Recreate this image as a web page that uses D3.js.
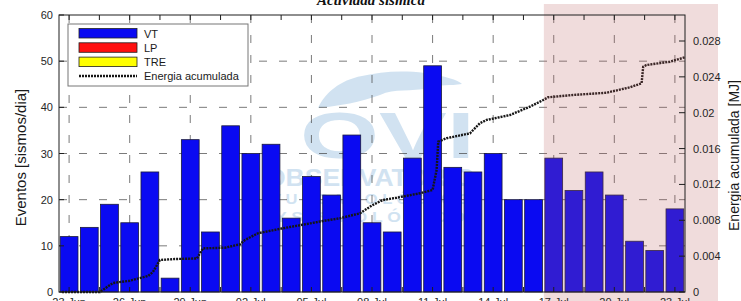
<!DOCTYPE html>
<html><head><meta charset="utf-8">
<script src="https://cdn.jsdelivr.net/npm/d3@7"></script>
<style>html,body{margin:0;padding:0;background:#fff;overflow:hidden}</style>
</head><body>
<script>
// ---------------- DATA ----------------
const days = ["23-Jun","24-Jun","25-Jun","26-Jun","27-Jun","28-Jun","29-Jun","30-Jun","01-Jul","02-Jul",
  "03-Jul","04-Jul","05-Jul","06-Jul","07-Jul","08-Jul","09-Jul","10-Jul","11-Jul","12-Jul",
  "13-Jul","14-Jul","15-Jul","16-Jul","17-Jul","18-Jul","19-Jul","20-Jul","21-Jul","22-Jul","23-Jul"];
const vt  = [12,14,19,15,26,3,33,13,36,30,32,16,25,21,34,15,13,29,49,27,26,30,20,20,29,22,26,21,11,9,18];
const lp  = days.map(() => 0);
const tre = days.map(() => 0);
const xTickIdx = [0,3,6,9,12,15,18,21,24,27,30];
const leftTicks = [0,10,20,30,40,50,60];
const rightTicks = [0,0.004,0.008,0.012,0.016,0.02,0.024,0.028];
// cumulative energy (x in days from start, value in MJ)
const energyT = [0.15,2.03,2.38,2.67,3.51,4.41,4.65,5.0,5.74,6.83,7.13,8.22,8.96,9.21,9.85,11.09,12.28,13.07,13.91,14.9,
  15.54,16.04,16.73,17.87,18.5,18.7,18.78,19.19,20.35,20.84,21.17,22.33,23.32,23.98,24.22,25.46,27.11,28.27,28.85,28.93,29.09,30.25,30.99];
const energyE = [0,0,0.00056,0.0010,0.00126,0.00178,0.00223,0.00357,0.00368,0.00374,0.00487,0.00494,0.00532,0.0058,0.00655,0.00711,0.00759,0.00792,0.00822,0.00878,
  0.00971,0.01026,0.01052,0.01101,0.01138,0.01361,0.01677,0.01715,0.0177,0.01882,0.01919,0.01974,0.02067,0.02142,0.02172,0.02198,0.02223,0.02283,0.02328,0.02513,0.02532,0.02569,0.02618];
const highlightFrom = 24;

// ---------------- LAYOUT ----------------
const W = 741, H = 301;
const L = 59, R = 685, T = 15, B = 292;
const svg = d3.select("body").append("svg").attr("width", W).attr("height", H)
  .style("font-family", "'Liberation Sans', Arial, sans-serif");

const xBand = d3.scaleBand().domain(d3.range(days.length)).range([L, R]).paddingInner(0.12).paddingOuter(0.06);
const xLin = d3.scaleLinear().domain([0, days.length]).range([L, R]);
const yL = d3.scaleLinear().domain([0, 60]).range([B, T]);
const yR = d3.scaleLinear().domain([0, 0.028]).range([B, 41]);

// watermark (logo-like, pale)
const wm = svg.append("g").attr("fill", "#c9deef").attr("opacity", 0.85);
wm.append("path").attr("d", "M318,108 C325,93 340,80 362,76 C380,72 400,70 425,73 C445,76 458,80 462,84 C450,86 440,84 430,88 C410,92 395,88 380,95 C360,102 340,106 318,108 Z");
wm.append("text").attr("x", 300).attr("y", 158).attr("font-size", 64).attr("font-weight", "bold").attr("text-anchor", "start").text("OVI")
  .attr("textLength", 175).attr("lengthAdjust", "spacingAndGlyphs");
wm.append("text").attr("x", 370).attr("y", 186).attr("font-size", 24).attr("font-weight", "bold").attr("text-anchor", "middle").text("OBSERVATORIO")
  .attr("textLength", 210).attr("lengthAdjust", "spacingAndGlyphs");
wm.append("text").attr("x", 370).attr("y", 204).attr("font-size", 15).attr("font-weight", "bold").attr("text-anchor", "middle").text("V U L C A N O L Ó G I C O")
  .attr("textLength", 200).attr("lengthAdjust", "spacingAndGlyphs");
wm.append("text").attr("x", 370).attr("y", 222).attr("font-size", 14).attr("font-weight", "bold").attr("text-anchor", "middle").text("Y   S I S M O L Ó G I C O")
  .attr("textLength", 190).attr("lengthAdjust", "spacingAndGlyphs");

// grid
const grid = svg.append("g").attr("stroke", "#444").attr("stroke-width", 1).attr("stroke-dasharray", "8,12").attr("opacity", 0.7);
leftTicks.slice(1, -1).forEach(v => grid.append("line").attr("x1", L).attr("x2", R).attr("y1", yL(v)).attr("y2", yL(v)));
xTickIdx.forEach(i => {
  const x = xBand(i) + xBand.bandwidth() / 2;
  grid.append("line").attr("x1", x).attr("x2", x).attr("y1", T).attr("y2", B);
});

// bars
svg.append("g").selectAll("rect").data(vt).join("rect")
  .attr("x", (d, i) => xBand(i)).attr("width", xBand.bandwidth())
  .attr("y", d => yL(d)).attr("height", d => B - yL(d))
  .attr("fill", "#0a0af2").attr("stroke", "#1a1a3a").attr("stroke-width", 0.8);

// energy line
const line = d3.line().x((d, i) => xLin(energyT[i])).y(d => yR(d));
svg.append("path").attr("d", line(energyE)).attr("fill", "none")
  .attr("stroke", "#161616").attr("stroke-width", 2.4).attr("stroke-dasharray", "2,1");

// highlight overlay
const hx = xBand(highlightFrom) - 1;
svg.append("rect").attr("x", hx).attr("y", 4).attr("width", 718 - hx).attr("height", H - 4)
  .attr("fill", "rgb(185,95,95)").attr("opacity", 0.22);

// frame
const ax = svg.append("g").attr("stroke", "#1e1e1e").attr("stroke-width", 1).attr("fill", "none");
ax.append("rect").attr("x", L).attr("y", T).attr("width", R - L).attr("height", B - T);
leftTicks.forEach(v => ax.append("line").attr("x1", L).attr("x2", L + 5).attr("y1", yL(v)).attr("y2", yL(v)));
rightTicks.forEach(v => ax.append("line").attr("x1", R).attr("x2", R - 6).attr("y1", yR(v)).attr("y2", yR(v)));
d3.range(0, 31, 1.5).forEach(t => {
  const x = xBand(0) + xBand.bandwidth() / 2 + t * xBand.step();
  ax.append("line").attr("x1", x).attr("x2", x).attr("y1", T).attr("y2", T + 5);
  ax.append("line").attr("x1", x).attr("x2", x).attr("y1", B).attr("y2", B - 5);
});

// tick labels
const lab = svg.append("g").attr("fill", "#262626").attr("font-size", 11);
leftTicks.forEach(v => lab.append("text").attr("x", L - 6).attr("y", yL(v) + 4).attr("text-anchor", "end").text(v));
rightTicks.forEach(v => lab.append("text").attr("x", R + 8).attr("y", yR(v) + 4).attr("text-anchor", "start").text(v === 0 ? "0" : String(v)));
xTickIdx.forEach(i => lab.append("text").attr("x", xBand(i) + xBand.bandwidth() / 2).attr("y", B + 14)
  .attr("text-anchor", "middle").text(days[i]));

// axis titles
svg.append("text").attr("transform", `translate(26,${(T + B) / 2 + 4}) rotate(-90)`).attr("text-anchor", "middle")
  .attr("font-size", 15).attr("fill", "#1a1a1a").text("Eventos [sismos/dia]");
svg.append("text").attr("transform", `translate(739,${(T + B) / 2 + 2}) rotate(-90)`).attr("text-anchor", "middle")
  .attr("font-size", 14).attr("fill", "#1a1a1a").text("Energia acumulada [MJ]");
svg.append("text").attr("x", 371).attr("y", 5).attr("text-anchor", "middle").attr("font-size", 15)
  .attr("font-family", "'Liberation Serif', 'Times New Roman', serif").attr("font-style", "italic").attr("font-weight", "bold")
  .attr("fill", "#111").text("Actividad sísmica");

// legend
const lg = svg.append("g");
lg.append("rect").attr("x", 68).attr("y", 24).attr("width", 180).attr("height", 62).attr("fill", "#fff").attr("stroke", "#777");
const items = [["VT", "#0a0af2", vt], ["LP", "#ff1010", lp], ["TRE", "#ffff00", tre]];
items.forEach((it, k) => {
  const y = 28.5 + k * 14.3;
  lg.append("rect").attr("x", 79).attr("y", y).attr("width", 58).attr("height", 9.5).attr("fill", it[1]).attr("stroke", "#222").attr("stroke-width", 0.8);
  lg.append("text").attr("x", 144).attr("y", y + 9).attr("font-size", 11).attr("fill", "#1a1a1a").text(it[0]);
});
lg.append("line").attr("x1", 79).attr("x2", 137).attr("y1", 76).attr("y2", 76).attr("stroke", "#161616").attr("stroke-width", 2.4).attr("stroke-dasharray", "2,1");
lg.append("text").attr("x", 144).attr("y", 80).attr("font-size", 11).attr("fill", "#1a1a1a").text("Energia acumulada");
</script>
</body></html>
